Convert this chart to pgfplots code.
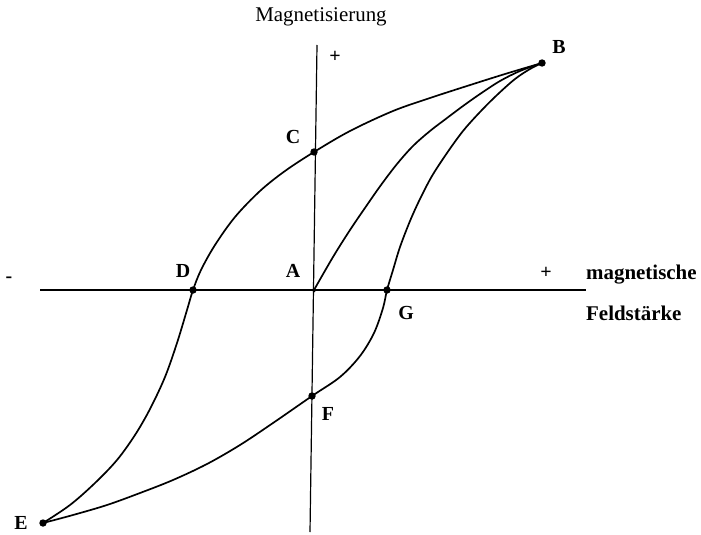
\documentclass[border=0pt]{standalone}
\usepackage{pgfplots}
\pgfplotsset{compat=1.18}
\usepackage{fontspec}
\setmainfont{Liberation Serif}
\begin{document}
\begin{tikzpicture}
\begin{axis}[
  width=701bp, height=535bp, scale only axis,
  xmin=0, xmax=701, ymin=0, ymax=535, y dir=reverse,
  hide axis, clip=false,
  every axis plot/.append style={line width=1.7pt, black},
]
\path (rel axis cs:0,0) rectangle (rel axis cs:1,1);
% axes
\addplot[line width=2.2pt] coordinates {(40,290) (586,290)};
\addplot[line width=1.2pt] coordinates {(317,45) (310,532)};
% descending branch B - C - D - E
\addplot[smooth, tension=0.55] coordinates {
(542,63) (505,74) (467,86) (430,98) (393,111) (350,131) (314,152) (285,171)
(260,191) (235,217) (215,245) (201,270) (193,290) (187,310) (177,343) (165,377)
(150,409) (135,435) (117,460) (95,483) (70,505) (43,523)};
% ascending branch E - F - G - B
\addplot[smooth, tension=0.55] coordinates {
(43,523) (73,515) (107,505) (140,493) (173,480) (207,464) (240,445) (273,423)
(312,396) (340,377) (360,356) (374,333) (383,308) (387,290) (393,270) (400,247)
(410,221) (420,199) (432,176) (447,153) (463,131) (480,112) (497,95) (515,79)
(530,69) (542,63)};
% initial curve A - B
\addplot[smooth, tension=0.55] coordinates {
(314,290) (333,257) (350,230) (367,205) (381,185) (397,164) (413,146) (430,131)
(447,118) (463,106) (480,94) (500,81) (520,71) (542,63)};
% points
\addplot[only marks, mark=*, mark size=2.8pt] coordinates {
(542,63) (314,152) (193,290) (387,290) (312,396) (43,523)};
\addplot[only marks, mark=*, mark size=1.3pt] coordinates {(314,290)};
% labels
\node[font=\fontsize{21}{24}\selectfont] at (321,17) {Magnetisierung};
\begin{scope}[every node/.style={font=\bfseries\fontsize{20}{24}\selectfont}]
\node at (559,47) {B};
\node at (293,137) {C};
\node at (183,271) {D};
\node at (293,271) {A};
\node at (406,313) {G};
\node at (328,414) {F};
\node at (21,523) {E};
\node at (335,57) {+};
\node at (546,273) {+};
\node at (9,280) {-};
\end{scope}
\node[anchor=base west, font=\bfseries\fontsize{21}{24}\selectfont, inner sep=0pt] at (586,279) {magnetische};
\node[anchor=base west, font=\bfseries\fontsize{21}{24}\selectfont, inner sep=0pt] at (586,320) {Feldstärke};
\end{axis}
\end{tikzpicture}
\end{document}
